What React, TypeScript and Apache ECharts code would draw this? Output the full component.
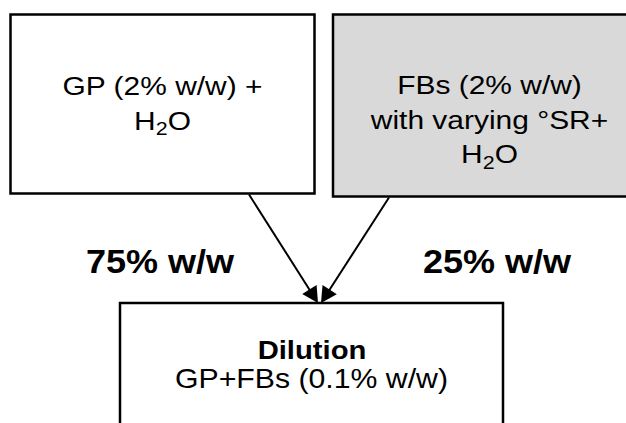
import React, { useEffect, useRef } from "react";
import * as echarts from "echarts";

// ---- content ----
const sourceBoxA = ["GP (2% w/w) +", "H2O"];
const sourceBoxB = ["FBs (2% w/w)", "with varying °SR+", "H2O"];
const targetTitle = "Dilution";
const targetSubtitle = "GP+FBs (0.1% w/w)";
const mixShares = [75, 25];
const shareUnit = "% w/w";

const FONT = '"Liberation Sans", Arial, Helvetica, sans-serif';

function txt(text: string, x: number, y: number, size: number, bold: boolean, sx: number, align = "center") {
  return {
    type: "text",
    x,
    y,
    scaleX: sx,
    silent: true,
    style: {
      text,
      fill: "#000",
      font: `${bold ? "bold " : ""}${size}px ${FONT}`,
      align,
      verticalAlign: "middle",
      textAlign: align,
      textVerticalAlign: "middle",
    },
  };
}

// H2O with subscript
function water(cx: number, cy: number, fs: number, sx: number) {
  const sub = 19;
  const wH = 0.722 * fs * sx;
  const w2 = 0.556 * sub * sx;
  const wO = 0.778 * fs * sx;
  const start = cx - (wH + w2 + wO) / 2;
  return [
    txt("H", start, cy, fs, false, sx, "left"),
    txt("2", start + wH, cy + 8, sub, false, sx, "left"),
    txt("O", start + wH + w2, cy, fs, false, sx, "left"),
  ];
}

function lines(list: string[], cx: number, y0: number, step: number, fs: number, sx: number) {
  const out: any[] = [];
  list.forEach((t, i) => {
    const y = y0 + i * step;
    if (t === "H2O") out.push(...water(cx, y, fs, sx));
    else out.push(txt(t, cx, y, fs, false, sx));
  });
  return out;
}

function arrow(x1: number, y1: number, x2: number, y2: number) {
  const dx = x2 - x1;
  const dy = y2 - y1;
  const len = Math.sqrt(dx * dx + dy * dy);
  const ux = dx / len;
  const uy = dy / len;
  const L = 16;
  const W = 8.5;
  const bx = x2 - ux * L;
  const by = y2 - uy * L;
  const nx = -uy;
  const ny = ux;
  return [
    {
      type: "line",
      silent: true,
      shape: { x1, y1, x2: bx + ux * 2, y2: by + uy * 2 },
      style: { stroke: "#000", lineWidth: 2 },
    },
    {
      type: "polygon",
      silent: true,
      shape: {
        points: [
          [x2, y2],
          [bx + nx * W, by + ny * W],
          [bx - nx * W, by - ny * W],
        ],
      },
      style: { fill: "#000" },
    },
  ];
}

export default function App() {
  const ref = useRef<HTMLDivElement>(null);
  useEffect(() => {
    if (!ref.current) return;
    const chart = echarts.init(ref.current, null, { renderer: "svg" });
    const fs = 26.5;
    const sx = 1.13;
    const graphic: any[] = [
      {
        type: "rect",
        silent: true,
        shape: { x: 10.5, y: 14.5, width: 304, height: 179 },
        style: { fill: "#fff", stroke: "#000", lineWidth: 2.5 },
      },
      {
        type: "rect",
        silent: true,
        shape: { x: 333, y: 14.5, width: 313, height: 182 },
        style: { fill: "#d9d9d9", stroke: "#000", lineWidth: 2.5 },
      },
      {
        type: "rect",
        silent: true,
        shape: { x: 120, y: 303, width: 383, height: 140 },
        style: { fill: "#fff", stroke: "#000", lineWidth: 2.5 },
      },
      ...lines(sourceBoxA, 162.5, 86, 34.5, fs, sx),
      ...lines(sourceBoxB, 489.5, 85, 34.5, fs, sx),
      ...arrow(249, 194.5, 318, 303),
      ...arrow(389, 197.5, 321, 303),
      txt(`${mixShares[0]}${shareUnit}`, 160, 260.5, 34, true, 1.06),
      txt(`${mixShares[1]}${shareUnit}`, 497, 260.5, 34, true, 1.06),
      txt(targetTitle, 312, 350.5, 25, true, 1.17),
      txt(targetSubtitle, 311.5, 378.5, 27.5, false, 1.1),
    ];
    chart.setOption({
      animation: false,
      backgroundColor: "#fff",
      graphic,
    });
    return () => chart.dispose();
  }, []);
  return (
    <div
      ref={ref}
      style={{ position: "fixed", left: 0, top: 0, width: 626, height: 423, background: "#fff" }}
    />
  );
}
